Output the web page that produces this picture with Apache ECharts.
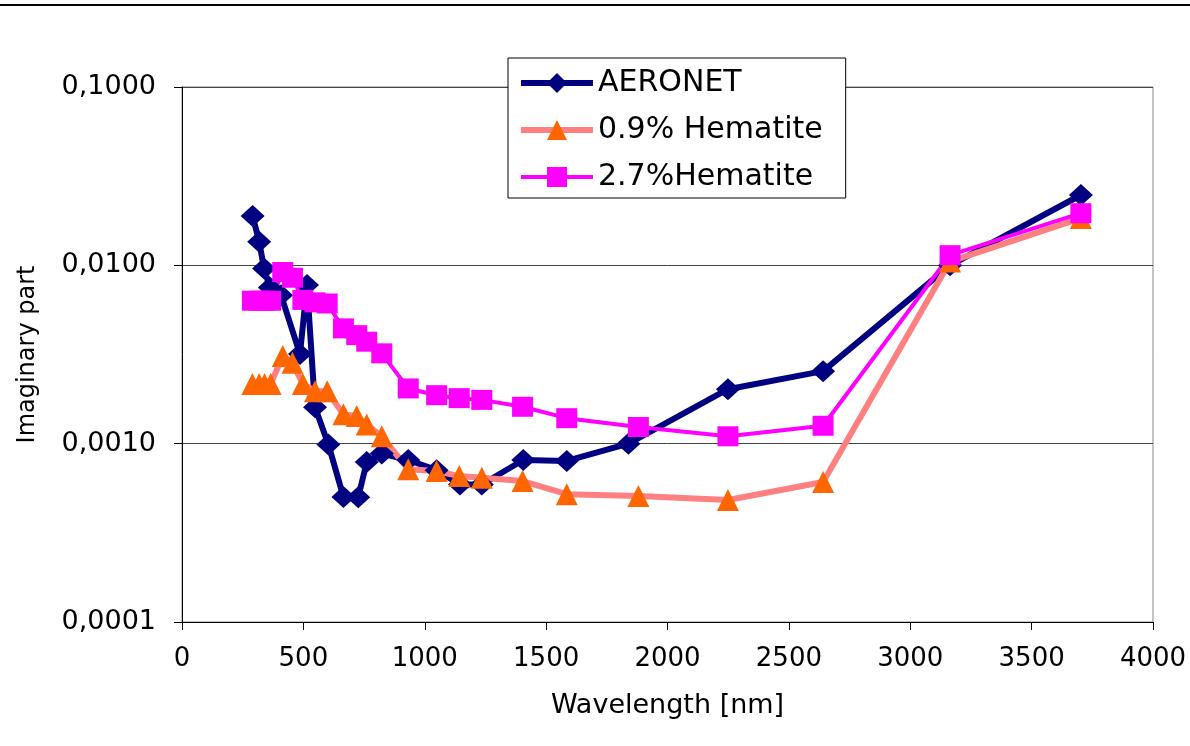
<!DOCTYPE html>
<html>
<head>
<meta charset="utf-8">
<script src="https://cdn.jsdelivr.net/npm/echarts@6/dist/echarts.min.js"></script>
<style>
  html, body { margin: 0; padding: 0; background: #fff; }
  #chart { width: 1190px; height: 746px; }
</style>
</head>
<body>
<div id="chart"></div>
<script>
// wavelengths [nm] and imaginary part of refractive index
var aeronetWl = [291, 318, 338, 362, 408, 486, 515, 548, 603, 665, 726, 761, 823, 932, 1049, 1145, 1235, 1406, 1585, 1839, 2249, 2641, 3164, 3703];
var aeronetK = [0.0189, 0.01356, 0.0096, 0.0075, 0.0068, 0.00318, 0.00776, 0.0016, 0.00099, 0.000503, 0.0005, 0.00079, 0.00088, 0.00081, 0.00071, 0.00059, 0.00059, 0.00081, 0.0008, 0.001, 0.00202, 0.00255, 0.01, 0.0248];

var hematiteWl = [290, 318, 340, 365, 415, 455, 498, 548, 598, 665, 720, 761, 823, 932, 1049, 1142, 1235, 1403, 1585, 1880, 2249, 2641, 3164, 3703];
var hem09K = [0.00216, 0.00216, 0.00216, 0.00216, 0.0031, 0.00284, 0.00216, 0.00197, 0.00197, 0.00146, 0.00143, 0.00128, 0.0011, 0.000718, 0.000702, 0.000658, 0.000644, 0.000617, 0.000521, 0.000508, 0.000483, 0.00061, 0.0105, 0.0184];
var hem27K = [0.00633, 0.00633, 0.00633, 0.00633, 0.00917, 0.00852, 0.0064, 0.0062, 0.00611, 0.00443, 0.00406, 0.00373, 0.00321, 0.00204, 0.00187, 0.0018, 0.00176, 0.00161, 0.00139, 0.00124, 0.0011, 0.00126, 0.0114, 0.0196];

var seriesNames = ['AERONET', '0.9% Hematite', '2.7%Hematite'];

function pairs(xs, ys) {
    return xs.map(function (x, i) { return [x, ys[i]]; });
}

var font = 'DejaVu Sans';
var myChart = echarts.init(document.getElementById('chart'));
var option = {
    animation: false,
    backgroundColor: '#fff',
    grid: {
        left: 182,
        right: 37,
        top: 87,
        bottom: 124,
        show: true,
        borderColor: '#888',
        borderWidth: 1
    },
    graphic: [{
        type: 'line',
        shape: { x1: 0, y1: 5, x2: 1190, y2: 5 },
        style: { stroke: '#000', lineWidth: 2 }
    }],
    legend: {
        orient: 'vertical',
        left: 508,
        top: 58,
        data: [
            { name: seriesNames[0], lineStyle: { width: 6 } },
            { name: seriesNames[1], lineStyle: { width: 6 } },
            { name: seriesNames[2], lineStyle: { width: 4 } }
        ],
        itemWidth: 72,
        itemHeight: 25,
        itemGap: 17,
        padding: [10, 23, 6, 10],
        backgroundColor: '#fff',
        borderColor: '#000',
        borderWidth: 1,
        z: 10,
        textStyle: {
            fontFamily: font,
            fontSize: 30,
            lineHeight: 30,
            color: '#000'
        }
    },
    xAxis: {
        type: 'value',
        min: 0,
        max: 4000,
        interval: 500,
        name: 'Wavelength [nm]',
        nameLocation: 'middle',
        nameGap: 70,
        nameTextStyle: { fontFamily: font, fontSize: 27, color: '#000' },
        axisLine: { lineStyle: { color: '#000', width: 1 } },
        axisTick: { show: true, inside: false, length: 8, lineStyle: { color: '#000' } },
        axisLabel: {
            fontFamily: font,
            fontSize: 26,
            color: '#000',
            margin: 24,
            formatter: function (v) { return String(v); }
        },
        splitLine: { show: false }
    },
    yAxis: {
        type: 'log',
        logBase: 10,
        min: 0.0001,
        max: 0.1,
        name: 'Imaginary part',
        nameLocation: 'middle',
        nameGap: 142,
        nameTextStyle: { fontFamily: font, fontSize: 24, color: '#000' },
        axisLine: { show: true, lineStyle: { color: '#000', width: 1 } },
        axisTick: { show: true, inside: false, length: 8, lineStyle: { color: '#000' } },
        axisLabel: {
            fontFamily: font,
            fontSize: 27,
            color: '#000',
            margin: 26,
            formatter: function (v) { return v.toFixed(4).replace('.', ','); }
        },
        splitLine: { show: true, showMaxLine: false, showMinLine: false, lineStyle: { color: '#444', width: 1 } },
        minorTick: { show: false }
    },
    series: [
        {
            name: seriesNames[0],
            type: 'line',
            data: pairs(aeronetWl, aeronetK),
            symbol: 'diamond',
            symbolSize: [24, 22],
            lineStyle: { color: '#000080', width: 6 },
            itemStyle: { color: '#000080' }
        },
        {
            name: seriesNames[1],
            type: 'line',
            data: pairs(hematiteWl, hem09K),
            symbol: 'triangle',
            symbolSize: [22, 22],
            lineStyle: { color: '#ff8080', width: 6 },
            itemStyle: { color: '#ff6600' }
        },
        {
            name: seriesNames[2],
            type: 'line',
            data: pairs(hematiteWl, hem27K),
            symbol: 'rect',
            symbolSize: [21, 20],
            lineStyle: { color: '#ff00ff', width: 4 },
            itemStyle: { color: '#ff00ff' }
        }
    ]
};
myChart.setOption(option);
</script>
</body>
</html>
